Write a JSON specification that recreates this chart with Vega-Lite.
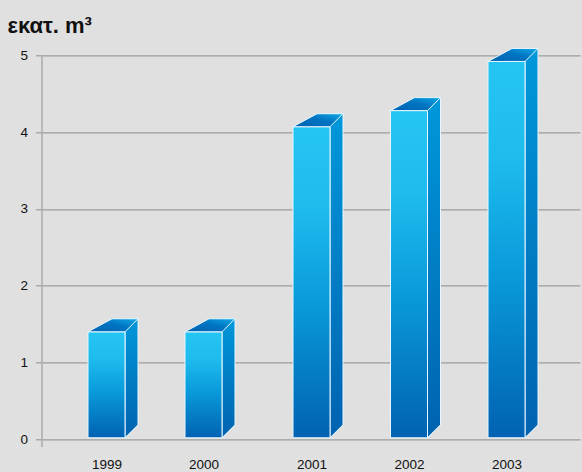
{
  "$schema": "https://vega.github.io/schema/vega-lite/v6.json",
  "background": "#e0e0e0",
  "autosize": "none",
  "padding": {"left": 41.5, "top": 55.3, "right": 2, "bottom": 25.4},
  "width": 538.5,
  "height": 391.3,
  "config": {
    "view": {"stroke": null},
    "axis": {"labelFont": "Liberation Sans", "labelFontSize": 13.5, "labelColor": "#111111"}
  },
  "data": {
    "values": [
      {"year": 1999, "value": 1.40},
      {"year": 2000, "value": 1.40},
      {"year": 2001, "value": 4.07},
      {"year": 2002, "value": 4.28},
      {"year": 2003, "value": 4.92}
    ]
  },
  "encoding": {
    "x": {
      "field": "year",
      "type": "quantitative",
      "scale": {
        "domain": [1998.33, 1999, 2000, 2001, 2003, 2003.754],
        "range": [0, 65, 162, 270, 465, 538.5],
        "nice": false,
        "zero": false,
        "padding": 0
      },
      "axis": {"title": null, "values": [1999, 2000, 2001, 2002, 2003], "format": "d", "domain": false, "ticks": false, "grid": false, "labelPadding": 11}
    }
  },
  "layer": [
    {
      "mark": {
        "type": "bar",
        "width": 13,
        "xOffset": 25,
        "yOffset": -13,
        "y2Offset": -1.5,
        "stroke": "#e8f7ff",
        "strokeWidth": 1,
        "fill": {"gradient": "linear", "x1": 0, "y1": 0, "x2": 0, "y2": 1,
          "stops": [{"offset": 0, "color": "#0098da"}, {"offset": 1, "color": "#0062b0"}]}
      },
      "encoding": {
        "y": {
          "field": "value",
          "type": "quantitative",
          "scale": {"domain": [-0.095, 5], "nice": false, "zero": false, "padding": 0},
          "axis": {
            "title": "εκατ. m³",
            "titleAngle": 0,
            "titleX": -34.5,
            "titleY": -23.3,
            "titleAlign": "left",
            "titleBaseline": "alphabetic",
            "titleFont": "Liberation Sans",
            "titleFontSize": 22,
            "titleFontWeight": "bold",
            "titleColor": "#111111",
            "values": [0, 1, 2, 3, 4, 5],
            "format": "d",
            "grid": true,
            "gridColor": "#9c9c9c",
            "gridWidth": 1.2,
            "tickColor": "#9c9c9c",
            "tickWidth": 1.2,
            "tickSize": 6,
            "domainColor": "#ababab",
            "domainWidth": 1.5,
            "labelPadding": 8
          }
        },
        "y2": {"datum": 0}
      }
    },
    {
      "mark": {
        "type": "point",
        "shape": "M17.7,-0.8 L33,-0.8 L33,-16.1 Z",
        "size": 4,
        "filled": true,
        "fill": "#e0e0e0",
        "opacity": 1,
        "strokeWidth": 0
      },
      "encoding": {"y": {"datum": 0}}
    },
    {
      "mark": {
        "type": "point",
        "shape": "M18.5,-1.5 L31.5,-14.5",
        "size": 4,
        "filled": false,
        "fill": null,
        "stroke": "#e8f7ff",
        "strokeWidth": 1,
        "opacity": 1
      },
      "encoding": {"y": {"datum": 0}}
    },
    {
      "mark": {
        "type": "bar",
        "width": 37,
        "y2Offset": -1.5,
        "stroke": "#e8f7ff",
        "strokeWidth": 1,
        "fill": {"gradient": "linear", "x1": 0, "y1": 0, "x2": 0, "y2": 1,
          "stops": [{"offset": 0, "color": "#25c5f3"}, {"offset": 0.25, "color": "#1fbcee"}, {"offset": 0.55, "color": "#0a9cdc"}, {"offset": 1, "color": "#0062b2"}]}
      },
      "encoding": {
        "y": {"field": "value", "type": "quantitative"},
        "y2": {"datum": 0}
      }
    },
    {
      "mark": {
        "type": "point",
        "shape": "M-18.5,0 L18.5,0 L31.5,-13 L5.5,-13 Z",
        "size": 4,
        "filled": true,
        "opacity": 1,
        "stroke": "#e8f7ff",
        "strokeWidth": 1,
        "fill": {"gradient": "linear", "x1": 0, "y1": 1, "x2": 1, "y2": 0,
          "stops": [{"offset": 0, "color": "#0062b0"}, {"offset": 0.55, "color": "#0074c2"}, {"offset": 1, "color": "#12aae6"}]}
      },
      "encoding": {"y": {"field": "value", "type": "quantitative"}}
    }
  ]
}
